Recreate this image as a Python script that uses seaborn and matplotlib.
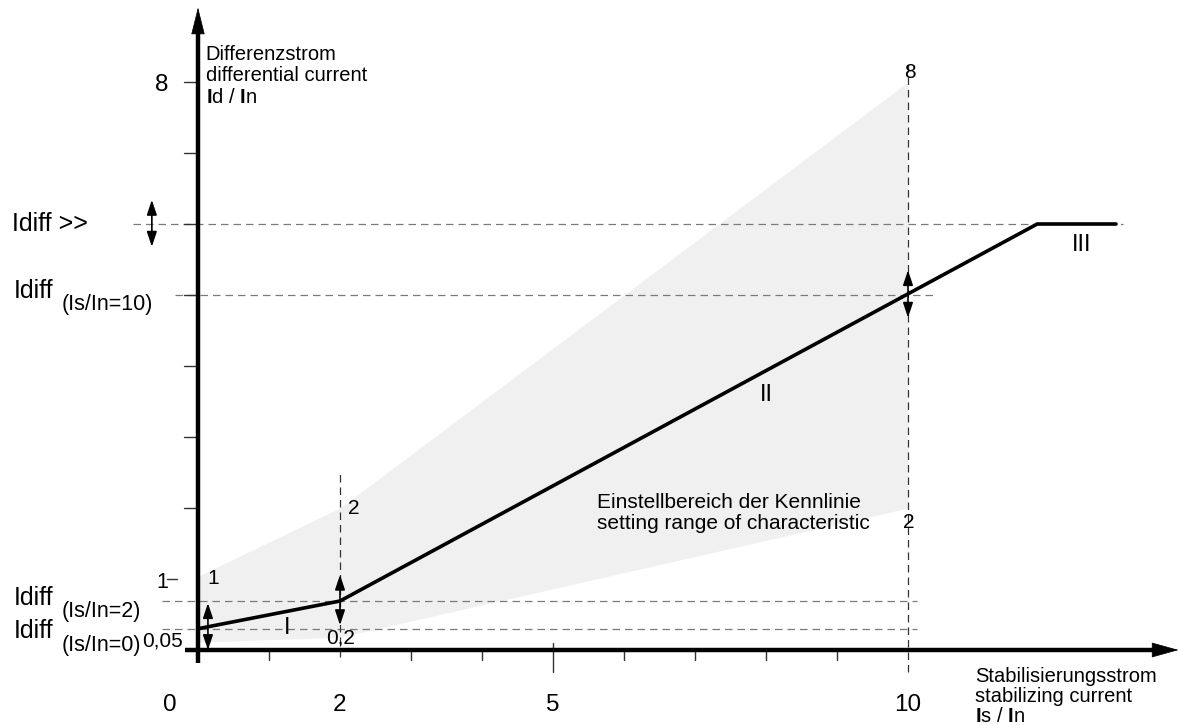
import matplotlib
matplotlib.use("Agg")
import matplotlib.pyplot as plt
import seaborn as sns

# --- characteristic (Is/In -> Id/In) ---
char_is = [0, 2, 11.82, 12.93]
char_id = [0.30, 0.69, 6.0, 6.0]

# setting range of the characteristic (shaded band)
band_is = [0, 2, 10]
band_upper = [1.04, 2.0, 8.0]
band_lower = [0.11, 0.18, 2.0]

# reference levels
idiff_hi = 6.0      # Idiff >>
idiff_10 = 5.0      # Idiff (Is/In=10)
idiff_2 = 0.69      # Idiff (Is/In=2)
idiff_0 = 0.30      # Idiff (Is/In=0)

# setting arrows: (x, low, high)
setting_arrows = [(0.14, 0.0, 0.66), (2, 0.35, 1.06), (10, 4.68, 5.35), (-0.65, 5.68, 6.34)]

xtick_major = [2, 5, 10]
xtick_minor = [1, 3, 4, 6, 7, 8, 9]
ytick_pos = [2, 3, 4, 5, 6, 7, 8]

sns.set_theme(style="white")
plt.rcParams['font.family'] = ['Liberation Sans', 'DejaVu Sans']
plt.rcParams['text.color'] = 'black'
plt.rcParams['mathtext.fontset'] = 'custom'
plt.rcParams['mathtext.rm'] = 'Liberation Sans'
plt.rcParams['mathtext.bf'] = 'Liberation Sans:bold'

fig = plt.figure(figsize=(11.85, 7.25), dpi=100)
ax = fig.add_axes([0, 0, 1, 1])
ax.set_xlim(-198 / 71, (1185 - 198) / 71)
ax.set_ylim(-75 / 71, 650 / 71)
ax.set_axis_off()

# shaded setting range
ax.fill_between(band_is, band_lower, band_upper, color='#f0f0f0', lw=0, zorder=1)

# dashed helper lines
hdash = dict(color='#7a7a7a', lw=0.9, ls=(0, (6, 4)), zorder=2)
vdash = dict(color='#333333', lw=0.9, ls=(0, (6, 4)), zorder=2)
ax.plot([-0.92, 13.03], [idiff_hi, idiff_hi], **hdash)
ax.plot([-0.32, 10.39], [idiff_10, idiff_10], **hdash)
ax.plot([-0.51, 10.13], [idiff_2, idiff_2], **hdash)
ax.plot([-0.51, 10.13], [idiff_0, idiff_0], **hdash)
ax.plot([2, 2], [-0.1, 2.5], **vdash)
ax.plot([10, 10], [-0.31, 8.31], **vdash)

# characteristic
sns.lineplot(x=char_is, y=char_id, sort=False, color='black', lw=2.6, ax=ax, zorder=4)

# double arrows for the settings
for x, lo, hi in setting_arrows:
    ax.annotate('', xy=(x, hi), xytext=(x, lo),
                arrowprops=dict(arrowstyle='<|-|>,head_length=0.9,head_width=0.3',
                                color='black', lw=1.2, shrinkA=0, shrinkB=0,
                                mutation_scale=10), zorder=5)

# axes with arrow heads
ax.plot([0, 0], [-0.18, 8.8], color='black', lw=3.2, solid_capstyle='butt', zorder=6)
ax.plot([-0.18, 13.5], [0, 0], color='black', lw=3.2, solid_capstyle='butt', zorder=6)
ax.annotate('', xy=(0, 9.05), xytext=(0, 8.6),
            arrowprops=dict(arrowstyle='-|>,head_length=1.8,head_width=0.45',
                            color='black', lw=0.5, shrinkA=0, shrinkB=0, mutation_scale=10), zorder=6)
ax.annotate('', xy=(13.81, 0), xytext=(13.3, 0),
            arrowprops=dict(arrowstyle='-|>,head_length=1.8,head_width=0.5',
                            color='black', lw=0.5, shrinkA=0, shrinkB=0, mutation_scale=10), zorder=6)

# ticks
for t in xtick_minor:
    ax.plot([t, t], [0, -0.14], color='#333333', lw=1, zorder=5)
ax.plot([5, 5], [0.1, -0.31], color='#333333', lw=1, zorder=5)
for t in ytick_pos:
    ax.plot([-0.2, 0], [t, t], color='#333333', lw=1, zorder=5)
ax.plot([-0.44, -0.30], [1, 1], color='#333333', lw=1, zorder=5)
ax.text(-0.5, 0.95, '1', fontsize=15.5, ha='center', va='center')

# tick labels
ax.text(-0.39, -0.77, '0', fontsize=17.5, ha='center', va='center')
for t in xtick_major:
    ax.text(t, -0.77, str(t), fontsize=17.5, ha='center', va='center')
ax.text(-0.51, 7.96, '8', fontsize=17.5, ha='center', va='center')

# axis titles
ax.text(0.11, 8.31, 'Differenzstrom', fontsize=14.5, ha='left', va='baseline')
ax.text(0.11, 8.01, 'differential current', fontsize=14.5, ha='left', va='baseline')
ax.text(0.11, 7.71, r'$\mathbf{I}$d / $\mathbf{I}$n', fontsize=14.5, ha='left', va='baseline')
ax.text(10.94, -0.45, 'Stabilisierungsstrom', fontsize=14.5, ha='left', va='baseline')
ax.text(10.94, -0.73, 'stabilizing current', fontsize=14.5, ha='left', va='baseline')
ax.text(10.94, -1.01, r'$\mathbf{I}$s / $\mathbf{I}$n', fontsize=14.5, ha='left', va='baseline')

# level labels on the left
ax.text(-2.62, idiff_hi, 'Idiff >>', fontsize=18, ha='left', va='center')
ax.text(-2.59, 5.06, 'Idiff', fontsize=18, ha='left', va='center')
ax.text(-1.92, 4.86, '(Is/In=10)', fontsize=15.5, ha='left', va='center')
ax.text(-2.59, 0.73, 'Idiff', fontsize=18, ha='left', va='center')
ax.text(-1.92, 0.54, '(Is/In=2)', fontsize=15.5, ha='left', va='center')
ax.text(-2.59, 0.27, 'Idiff', fontsize=18, ha='left', va='center')
ax.text(-1.92, 0.07, '(Is/In=0)', fontsize=15.5, ha='left', va='center')
ax.text(-0.21, 0.13, '0,05', fontsize=15, ha='right', va='center')

# range values
ax.text(0.13, 1.0, '1', fontsize=15, ha='left', va='center')
ax.text(2.11, 1.99, '2', fontsize=15, ha='left', va='center')
ax.text(2.01, 0.17, '0,2', fontsize=15, ha='center', va='center')
ax.text(10.03, 8.14, '8', fontsize=15, ha='center', va='center')
ax.text(10.01, 1.80, '2', fontsize=15, ha='center', va='center')

# segment numbers
ax.text(1.25, 0.31, 'I', fontsize=17, ha='center', va='center')
ax.text(8.0, 3.59, 'II', fontsize=17, ha='center', va='center')
ax.text(12.45, 5.70, 'III', fontsize=17, ha='center', va='center')

ax.text(5.62, 2.0, 'Einstellbereich der Kennlinie', fontsize=15, ha='left', va='baseline')
ax.text(5.62, 1.70, 'setting range of characteristic', fontsize=15, ha='left', va='baseline')

fig.savefig('out.png', dpi=100)
